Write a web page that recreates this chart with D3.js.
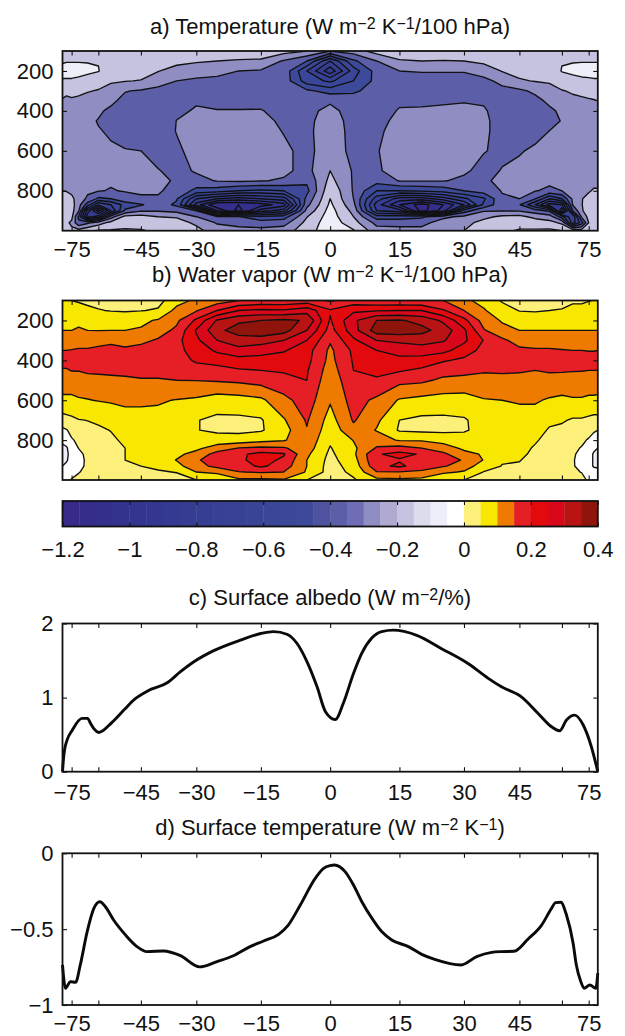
<!DOCTYPE html>
<html lang="en">
<head>
<meta charset="UTF-8">
<script src="https://d3js.org/d3.v7.min.js"></script>
<style>
    html, body { margin: 0; padding: 0; background: white; }
    svg { display: block; }
    text { font-family: "Liberation Sans", Arial, sans-serif; fill: #111; }
    .tick text { font-size: 22px; }
    .title { font-size: 22px; }
</style>
</head>
<body>
<div id="chart"></div>
<script>
// latitude and pressure nodes of the contour grids
const gridLats = [-90,-80,-75,-70,-65,-60,-55,-50,-45,-40,-35,-30,-25,-20,-15,-10,-5,0,5,10,15,20,25,30,35,40,45,50,55,60,65,70,75,80,90];
const gridPres = [100,150,200,250,300,350,400,450,500,600,700,750,800,840,870,900,930,960,1000];

// panel a, one line per latitude, top to bottom
const tempCols = [
[-.15,-.11,-.07,-.11,-.17,-.21,-.24,-.26,-.27,-.27,-.26,-.24,-.2,-.16,-.14,-.14,-.15,-.17,-.18],
[-.15,-.105,-.07,-.11,-.18,-.22,-.25,-.27,-.28,-.28,-.27,-.25,-.205,-.16,-.14,-.14,-.15,-.18,-.18],
[-.14,-.105,-.07,-.11,-.17,-.215,-.25,-.27,-.28,-.28,-.27,-.25,-.22,-.18,-.16,-.16,-.17,-.22,-.18],
[-.14,-.105,-.07,-.12,-.18,-.22,-.25,-.27,-.28,-.29,-.28,-.27,-.25,-.24,-.26,-.29,-.42,-.38,-.16],
[-.14,-.105,-.08,-.14,-.195,-.23,-.26,-.28,-.29,-.29,-.28,-.27,-.28,-.32,-.45,-.75,-.85,-.32,-.12],
[-.14,-.105,-.095,-.17,-.205,-.25,-.285,-.305,-.295,-.285,-.28,-.285,-.295,-.42,-.7,-1.05,-.75,-.25,-.09],
[-.13,-.15,-.165,-.19,-.23,-.28,-.32,-.34,-.31,-.29,-.28,-.29,-.305,-.4,-.6,-.7,-.35,-.17,-.09],
[-.12,-.14,-.16,-.195,-.295,-.33,-.36,-.37,-.34,-.295,-.285,-.285,-.295,-.33,-.46,-.38,-.17,-.13,-.09],
[-.12,-.135,-.16,-.205,-.31,-.33,-.36,-.37,-.36,-.3,-.285,-.285,-.295,-.305,-.41,-.31,-.16,-.125,-.095],
[-.12,-.15,-.195,-.27,-.32,-.34,-.37,-.38,-.37,-.34,-.295,-.29,-.29,-.31,-.35,-.31,-.2,-.14,-.11],
[-.12,-.17,-.24,-.3,-.33,-.35,-.32,-.298,-.295,-.32,-.33,-.305,-.33,-.39,-.42,-.33,-.21,-.16,-.11],
[-.13,-.19,-.25,-.32,-.345,-.31,-.29,-.27,-.26,-.26,-.29,-.33,-.43,-.7,-.85,-.4,-.3,-.22,-.17],
[-.13,-.2,-.265,-.33,-.345,-.33,-.295,-.27,-.26,-.26,-.27,-.295,-.45,-.8,-1.1,-.9,-.38,-.31,-.25],
[-.14,-.21,-.3,-.33,-.345,-.33,-.295,-.27,-.255,-.255,-.27,-.285,-.5,-.85,-1.1,-1.15,-.39,-.32,-.28],
[-.14,-.215,-.31,-.335,-.34,-.325,-.295,-.27,-.26,-.26,-.27,-.295,-.52,-.8,-1.05,-.85,-.48,-.35,-.27],
[-.16,-.31,-.33,-.34,-.34,-.33,-.33,-.32,-.305,-.28,-.28,-.31,-.5,-.75,-.95,-.75,-.45,-.34,-.25],
[-.2,-.4,-.6,-.55,-.38,-.335,-.32,-.32,-.32,-.33,-.33,-.38,-.43,-.37,-.33,-.27,-.205,-.17,-.14],
[-.3,-.7,-.87,-.62,-.44,-.31,-.28,-.26,-.25,-.24,-.2,-.17,-.12,-.1,-.08,-.06,-.05,-.04,-.04],
[-.25,-.42,-.55,-.5,-.42,-.34,-.33,-.33,-.33,-.33,-.31,-.31,-.31,-.3,-.27,-.23,-.2,-.16,-.09],
[-.16,-.3,-.36,-.37,-.35,-.34,-.33,-.33,-.32,-.305,-.31,-.36,-.5,-.65,-.75,-.7,-.45,-.33,-.26],
[-.14,-.21,-.3,-.33,-.34,-.31,-.295,-.275,-.26,-.26,-.27,-.295,-.5,-.85,-1,-.75,-.45,-.33,-.27],
[-.14,-.2,-.295,-.33,-.34,-.315,-.29,-.27,-.255,-.255,-.27,-.295,-.48,-.85,-1.15,-1.15,-.42,-.33,-.27],
[-.13,-.205,-.295,-.33,-.34,-.31,-.285,-.27,-.26,-.26,-.27,-.295,-.46,-.75,-1,-.95,-.32,-.26,-.23],
[-.13,-.2,-.295,-.33,-.33,-.305,-.28,-.27,-.26,-.26,-.285,-.32,-.4,-.62,-.8,-.45,-.28,-.23,-.2],
[-.13,-.18,-.25,-.33,-.34,-.31,-.29,-.28,-.28,-.295,-.33,-.31,-.35,-.52,-.48,-.31,-.225,-.17,-.12],
[-.13,-.165,-.195,-.27,-.33,-.34,-.34,-.34,-.34,-.32,-.295,-.285,-.295,-.31,-.33,-.305,-.18,-.13,-.11],
[-.13,-.145,-.17,-.21,-.32,-.34,-.35,-.35,-.34,-.305,-.285,-.28,-.29,-.3,-.39,-.31,-.17,-.12,-.095],
[-.13,-.14,-.16,-.195,-.28,-.33,-.35,-.35,-.32,-.29,-.28,-.28,-.295,-.4,-.6,-.35,-.23,-.14,-.09],
[-.13,-.14,-.16,-.19,-.23,-.28,-.32,-.33,-.3,-.28,-.275,-.28,-.32,-.6,-.85,-.42,-.25,-.17,-.08],
[-.14,-.105,-.095,-.15,-.205,-.25,-.28,-.295,-.29,-.28,-.27,-.275,-.3,-.5,-.8,-1,-.45,-.22,-.1],
[-.14,-.105,-.08,-.13,-.19,-.22,-.26,-.28,-.285,-.28,-.27,-.27,-.27,-.28,-.295,-.4,-.7,-.65,-.12],
[-.14,-.105,-.07,-.12,-.18,-.215,-.26,-.27,-.28,-.28,-.26,-.25,-.23,-.205,-.205,-.21,-.28,-.45,-.15],
[-.14,-.105,-.07,-.115,-.17,-.21,-.25,-.27,-.28,-.28,-.26,-.24,-.21,-.17,-.15,-.16,-.17,-.2,-.15],
[-.14,-.105,-.07,-.11,-.17,-.205,-.25,-.27,-.27,-.27,-.26,-.23,-.19,-.15,-.14,-.14,-.15,-.17,-.15],
[-.14,-.105,-.07,-.11,-.17,-.2,-.24,-.26,-.27,-.27,-.26,-.23,-.19,-.15,-.14,-.14,-.15,-.16,-.16]
];

// panel b, same layout
const vaporCols = [
[.055,.07,.085,.1,.125,.15,.17,.145,.125,.09,.03,-.01,-.04,-.06,-.07,-.06,-.05,-.03,-.02],
[.06,.075,.09,.1,.125,.15,.17,.145,.125,.09,.035,-.003,-.03,-.055,-.06,-.055,-.04,-.02,-.01],
[.05,.075,.09,.1,.125,.152,.17,.152,.125,.09,.04,.015,-.005,-.025,-.03,-.03,-.025,-.015,.003],
[.045,.07,.09,.105,.13,.155,.17,.152,.13,.095,.048,.03,.01,.001,-.01,-.012,-.01,-.002,.01],
[.04,.06,.09,.1,.13,.155,.17,.16,.13,.098,.051,.035,.025,.015,.01,.007,.007,.01,.02],
[.035,.053,.09,.099,.135,.16,.175,.16,.135,.102,.06,.04,.03,.03,.03,.03,.03,.03,.03],
[.03,.047,.09,.1,.14,.165,.18,.165,.135,.105,.07,.052,.04,.035,.035,.035,.035,.035,.035],
[.03,.045,.085,.1,.14,.155,.18,.165,.14,.11,.08,.07,.06,.05,.05,.05,.045,.04,.035],
[.03,.048,.09,.105,.14,.165,.185,.17,.145,.11,.08,.075,.07,.065,.065,.06,.05,.04,.03],
[.035,.055,.105,.13,.155,.17,.19,.17,.145,.105,.085,.08,.075,.07,.07,.07,.06,.045,.03],
[.08,.115,.14,.16,.185,.19,.185,.17,.15,.098,.085,.08,.08,.08,.09,.102,.085,.052,.03],
[.11,.145,.21,.255,.24,.215,.205,.185,.151,.092,.052,.052,.085,.09,.115,.14,.13,.1,.05],
[.125,.2,.305,.335,.3,.26,.215,.185,.155,.075,.04,.04,.075,.12,.17,.19,.165,.11,.06],
[.15,.25,.34,.375,.325,.285,.23,.195,.16,.08,.04,.04,.07,.152,.19,.19,.175,.148,.09],
[.16,.26,.35,.385,.325,.265,.235,.2,.17,.09,.045,.045,.085,.16,.215,.22,.21,.155,.09],
[.16,.255,.36,.37,.3,.255,.225,.205,.185,.135,.095,.08,.095,.155,.205,.19,.175,.15,.095],
[.17,.28,.345,.3,.25,.22,.215,.205,.2,.175,.155,.147,.135,.125,.11,.1,.1,.095,.05],
[.145,.205,.195,.18,.155,.14,.135,.125,.115,.105,.08,.07,.058,.047,.04,.035,.03,.03,.03],
[.17,.24,.29,.28,.24,.21,.205,.2,.19,.17,.155,.135,.102,.09,.09,.08,.07,.06,.045],
[.16,.245,.35,.375,.3,.25,.23,.21,.195,.14,.11,.097,.125,.155,.195,.195,.185,.148,.085],
[.16,.25,.355,.38,.31,.27,.235,.205,.165,.095,.05,.045,.095,.17,.215,.195,.21,.148,.09],
[.155,.25,.335,.365,.32,.275,.23,.19,.16,.085,.04,.04,.095,.15,.195,.19,.175,.14,.085],
[.15,.205,.29,.33,.305,.265,.205,.17,.14,.08,.04,.04,.08,.125,.16,.175,.155,.11,.05],
[.11,.15,.215,.26,.26,.225,.19,.165,.135,.08,.045,.045,.07,.09,.115,.145,.125,.095,.05],
[.085,.105,.13,.155,.198,.185,.175,.155,.135,.097,.07,.065,.07,.08,.095,.098,.075,.048,.035],
[.045,.07,.095,.115,.16,.18,.175,.155,.14,.1,.08,.075,.07,.065,.06,.055,.048,.04,.03],
[.04,.048,.08,.1,.13,.16,.18,.155,.135,.105,.08,.075,.07,.065,.06,.052,.045,.035,.025],
[.035,.045,.08,.1,.13,.155,.175,.15,.135,.105,.08,.07,.055,.045,.04,.035,.03,.025,.02],
[.035,.05,.085,.1,.13,.155,.175,.155,.135,.095,.06,.045,.035,.03,.025,.02,.02,.02,.02],
[.04,.052,.085,.1,.13,.152,.175,.155,.13,.09,.055,.04,.03,.02,.015,.012,.012,.015,.02],
[.045,.06,.085,.1,.13,.15,.17,.153,.13,.095,.045,.035,.025,.01,.005,.003,.003,.005,.015],
[.045,.06,.09,.1,.125,.15,.17,.152,.13,.095,.045,.03,.01,-.003,-.01,-.012,-.01,-.001,.01],
[.048,.07,.09,.1,.125,.148,.17,.15,.13,.09,.04,.02,-.005,-.02,-.03,-.03,-.03,-.015,-.005],
[.052,.07,.09,.1,.125,.148,.17,.15,.13,.09,.035,.005,-.015,-.04,-.055,-.055,-.055,-.03,-.015],
[.055,.07,.09,.1,.125,.15,.17,.15,.125,.09,.035,0,-.02,-.05,-.06,-.065,-.06,-.03,-.02]
];

// panel c
const albedoLats = [-90,-85,-83,-79.3,-74.5,-68,-65,-63.5,-62,-59.8,-54.5,-50,-47,-43,-37.5,-34,-30.7,-25.9,-19.6,-15,-12.2,-9.3,-7.1,-5,-2.8,-1,1.1,2.8,5,6.8,8.9,11.1,13.6,18.9,24.6,31,36.2,39.8,45.6,51,55.8,59,62,66,71,77.4,90];
const albedoVals = [0,.18,.29,.43,.56,.72,.72,.65,.58,.53,.67,.85,.975,1.09,1.2,1.35,1.48,1.63,1.775,1.865,1.89,1.855,1.73,1.49,1.145,.81,.705,.92,1.325,1.6,1.8,1.89,1.91,1.84,1.66,1.46,1.26,1.146,1.01,.786,.607,.553,.697,.764,.63,.337,0];

// panel d
const surfLats = [-90,-81.4,-76,-72,-69,-65.2,-62,-59.4,-57.1,-54,-49.9,-46.2,-43.2,-38.5,-34,-29.2,-25,-21.2,-17.4,-14.4,-11.1,-9,-6.4,-3.2,-1.4,0,.9,3.2,5,6.8,9,11.1,13.3,17,20,23,29.3,33.2,37.1,39.8,43.4,47.7,52.2,55.8,57.4,59.5,62,65.2,66.9,69.5,71.6,76,83,90];
const surfVals = [-.736,-.89,-.846,-.851,-.736,-.516,-.363,-.319,-.352,-.44,-.538,-.615,-.648,-.644,-.675,-.749,-.714,-.675,-.615,-.578,-.534,-.473,-.341,-.165,-.099,-.081,-.077,-.121,-.209,-.319,-.429,-.516,-.571,-.615,-.666,-.699,-.736,-.681,-.653,-.648,-.646,-.565,-.473,-.363,-.325,-.323,-.407,-.593,-.736,-.846,-.89,-.868,-.89,-.79];

const latTicks = [-75,-60,-45,-30,-15,0,15,30,45,60,75];
const latUnlabelled = [-60,60];
const presTicks = [200,400,600,800];

// colour bar, one colour per 0.05 from -1.2 up to 0.4
const barStart = -1.2, barStep = 0.05;
const barColors = ["#372a8b","#352c8c","#342f8d","#33328e","#33358f","#333790","#343a91","#353c92","#363e93","#374094","#384295","#394496","#3a4697","#3b4898","#3c4a99",
    "#4f529f","#5d5ea8","#6f6db3","#8f8dc2","#b0aad3","#c6c3e1","#dcdcef","#eeeef8","#ffffff",
    "#fdf07a","#f8e700","#ee7a00","#e61e25","#e30a0d","#d8081a","#b91414","#8f140b"];
const barTicks = [-1.2,-1,-0.8,-0.6,-0.4,-0.2,0,0.2,0.4];

// contour levels
const tempLevels = d3.range(-11, 0).map(d => d / 10);
const vaporLevels = d3.range(-1, 8).map(d => d / 20);

const left = 62.5, right = 597.8;
const sinDeg = d => Math.sin(d * Math.PI / 180);
const x = d3.scaleLinear().domain([-1, 1]).range([left, right]);
const fmt = s => String(s).replace("-", "\u2212");
const colorAt = v => barColors[Math.round((v - barStart) / barStep)];

const svg = d3.select("#chart").append("svg").attr("width", 625).attr("height", 1036);
const defs = svg.append("defs");

function title(y, parts) {
    const t = svg.append("text").attr("class", "title").attr("x", 330).attr("y", y).attr("text-anchor", "middle");
    parts.forEach(p => {
        const isSup = p.startsWith("^");
        t.append("tspan")
            .attr("baseline-shift", isSup ? "33%" : null)
            .style("font-size", isSup ? "16px" : null)
            .text(isSup ? p.slice(1) : p);
    });
}

function latAxes(g, y0, y1, labelPad) {
    const vals = latTicks.map(sinDeg);
    const bottom = g.append("g").attr("transform", `translate(0,${y1})`)
        .call(d3.axisBottom(x).tickValues(vals).tickSizeInner(-4.5).tickSizeOuter(0).tickPadding(labelPad || 0)
            .tickFormat(v => {
                const lat = Math.round(Math.asin(v) * 180 / Math.PI);
                return labelPad && !latUnlabelled.includes(lat) ? fmt(lat) : "";
            }));
    const top = g.append("g").attr("transform", `translate(0,${y0})`)
        .call(d3.axisTop(x).tickValues(vals).tickSizeInner(-4.5).tickSizeOuter(0).tickFormat(""));
    [bottom, top].forEach(a => {
        a.select(".domain").remove();
        a.selectAll("line").attr("stroke", "#111").attr("stroke-width", 1.1);
    });
}

function leftRightAxes(g, y, tickVals, f) {
    const a = g.append("g").attr("transform", `translate(${left},0)`)
        .call(d3.axisRight(y).tickValues(tickVals).tickSizeInner(4.5).tickSizeOuter(0).tickFormat(""));
    const b = g.append("g").attr("transform", `translate(${right},0)`)
        .call(d3.axisLeft(y).tickValues(tickVals).tickSizeInner(4.5).tickSizeOuter(0).tickFormat(""));
    const lab = g.append("g").attr("transform", `translate(${left},0)`)
        .call(d3.axisLeft(y).tickValues(tickVals).tickSize(0).tickPadding(9).tickFormat(f));
    [a, b, lab].forEach(s => s.select(".domain").remove());
    [a, b].forEach(s => s.selectAll("line").attr("stroke", "#111").attr("stroke-width", 1.1));
}

function frame(g, y0, y1) {
    g.append("rect").attr("x", left).attr("y", y0).attr("width", right - left).attr("height", y1 - y0)
        .attr("fill", "none").attr("stroke", "#111").attr("stroke-width", 1.8);
}

function contourPanel(id, cols, levels, y0, y1, labelPad) {
    const y = d3.scaleLinear().domain([100, 1000]).range([y0, y1]);
    const n = gridLats.length, m = gridPres.length;
    // grid index to pixel, the nodes are not evenly spaced
    const ix = d3.scaleLinear().domain(gridLats.map((d, i) => i + 0.5)).range(gridLats.map(d => x(sinDeg(d))));
    const iy = d3.scaleLinear().domain(gridPres.map((d, i) => i + 0.5)).range(gridPres.map(d => y(d)));
    const values = [];
    for (let j = 0; j < m; j++) for (let i = 0; i < n; i++) values.push(cols[i][j]);

    const contours = d3.contours().size([n, m]).thresholds(levels)(values);
    const path = d3.geoPath(d3.geoTransform({
        point(px, py) { this.stream.point(ix(px), iy(py)); }
    }));

    defs.append("clipPath").attr("id", id).append("rect")
        .attr("x", left).attr("y", y0).attr("width", right - left).attr("height", y1 - y0);

    const g = svg.append("g");
    const plot = g.append("g").attr("clip-path", `url(#${id})`);
    plot.append("rect").attr("x", left).attr("y", y0).attr("width", right - left).attr("height", y1 - y0)
        .attr("fill", colorAt(levels[0] - (levels[1] - levels[0])));
    plot.selectAll("path").data(contours).enter().append("path")
        .attr("d", path)
        .attr("fill", d => colorAt(d.value))
        .attr("stroke", "#111")
        .attr("stroke-width", 1.35)
        .attr("stroke-linejoin", "round");

    latAxes(g, y0, y1, labelPad);
    leftRightAxes(g, y, presTicks, d => d);
    frame(g, y0, y1);
}

function linePanel(lats, vals, domain, tickVals, y0, y1, labelPad, f) {
    const y = d3.scaleLinear().domain(domain).range([y1, y0]);
    const g = svg.append("g");
    const line = d3.line()
        .x((d, i) => x(sinDeg(lats[i])))
        .y(d => y(d))
        .curve(d3.curveMonotoneX);
    g.append("path").datum(vals).attr("d", line)
        .attr("fill", "none").attr("stroke", "#0a0a0a").attr("stroke-width", 2.9).attr("stroke-linejoin", "round");
    latAxes(g, y0, y1, labelPad);
    leftRightAxes(g, y, tickVals, f);
    frame(g, y0, y1);
}

title(34, ["a) Temperature (W m", "^\u22122", " K", "^\u22121", "/100 hPa)"]);
contourPanel("clipA", tempCols, tempLevels, 51, 230.7, 11);

title(282, ["b) Water vapor (W m", "^\u22122", " K", "^\u22121", "/100 hPa)"]);
contourPanel("clipB", vaporCols, vaporLevels, 300.5, 480, 0);

// colour bar
const barY0 = 501, barY1 = 526.5;
const barX = d3.scaleLinear().domain([barStart, 0.4]).range([left, right]);
const bar = svg.append("g");
bar.selectAll("rect").data(barColors).enter().append("rect")
    .attr("x", (d, i) => barX(barStart + i * barStep))
    .attr("width", (d, i) => barX(barStart + (i + 1) * barStep) - barX(barStart + i * barStep) + 0.4)
    .attr("y", barY0).attr("height", barY1 - barY0)
    .attr("fill", d => d);
const barBottom = bar.append("g").attr("transform", `translate(0,${barY1})`)
    .call(d3.axisBottom(barX).tickValues(barTicks).tickSizeInner(-4).tickSizeOuter(0).tickPadding(15)
        .tickFormat(v => fmt(+v.toFixed(1))));
const barTop = bar.append("g").attr("transform", `translate(0,${barY0})`)
    .call(d3.axisTop(barX).tickValues(barTicks).tickSizeInner(-4).tickSizeOuter(0).tickFormat(""));
[barBottom, barTop].forEach(a => {
    a.select(".domain").remove();
    a.selectAll("line").attr("stroke", "#111").attr("stroke-width", 1.1);
});
frame(bar, barY0, barY1);

title(605, ["c) Surface albedo (W m", "^\u22122", "/%)"]);
linePanel(albedoLats, albedoVals, [0, 2], [0, 1, 2], 623.5, 771.7, 13, d => d);

title(835, ["d) Surface temperature (W m", "^\u22122", " K", "^\u22121", ")"]);
linePanel(surfLats, surfVals, [-1, 0], [-1, -0.5, 0], 853.3, 1005, 10, d => fmt(d));
</script>
</body>
</html>
